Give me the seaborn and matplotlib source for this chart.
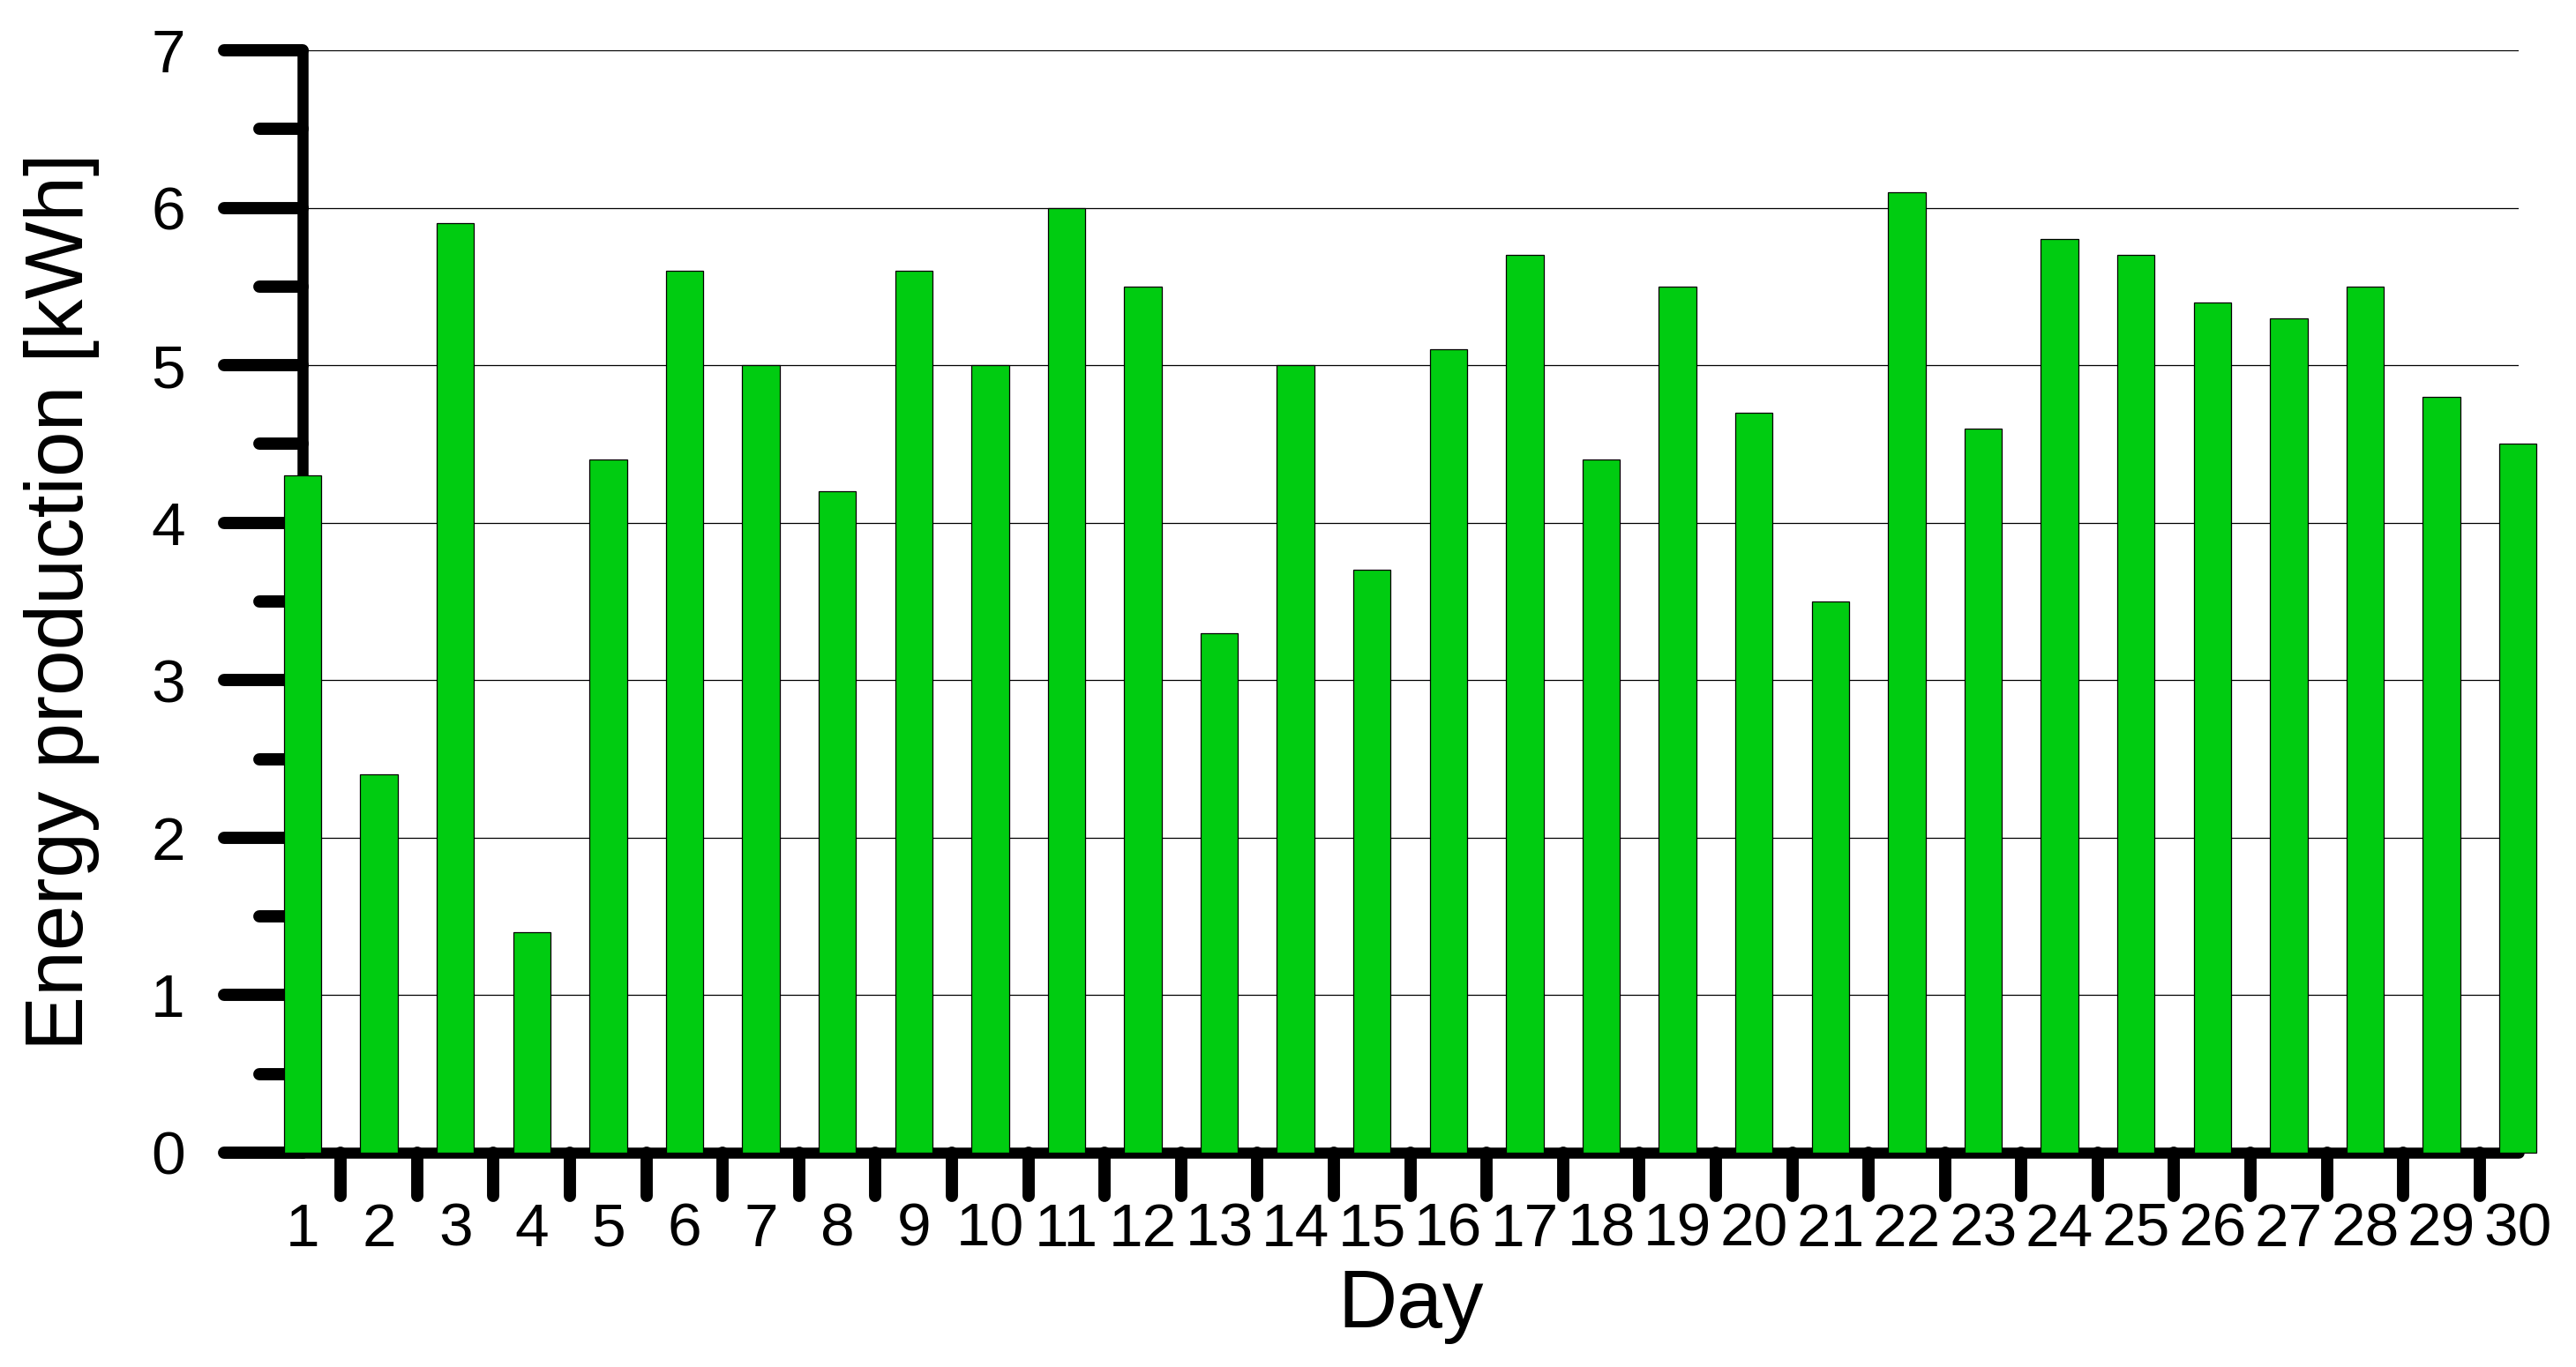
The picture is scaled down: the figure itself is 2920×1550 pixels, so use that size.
import numpy as np
import pandas as pd
import matplotlib
matplotlib.use("Agg")
import matplotlib.pyplot as plt
from matplotlib.markers import MarkerStyle
import seaborn as sns

# ---- data ----
days = [str(d) for d in range(1, 31)]
energy = [4.3, 2.4, 5.9, 1.4, 4.4, 5.6, 5.0, 4.2, 5.6, 5.0,
          6.0, 5.5, 3.3, 5.0, 3.7, 5.1, 5.7, 4.4, 5.5, 4.7,
          3.5, 6.1, 4.6, 5.8, 5.7, 5.4, 5.3, 5.5, 4.8, 4.5]
y_ticks = [0, 1, 2, 3, 4, 5, 6, 7]
y_minor = [0.5, 1.5, 2.5, 3.5, 4.5, 5.5, 6.5]
x_label = "Day"
y_label = "Energy production [kWh]"

sns.set_style("white")
plt.rcParams['font.family'] = ['Liberation Sans', 'DejaVu Sans']
plt.rcParams['text.color'] = 'black'
plt.rcParams['axes.labelcolor'] = 'black'
plt.rcParams['xtick.color'] = 'black'
plt.rcParams['ytick.color'] = 'black'
plt.rcParams['xtick.labelcolor'] = 'black'
plt.rcParams['ytick.labelcolor'] = 'black'

df = pd.DataFrame({"Day": days, "Energy": energy})

fig = plt.figure(figsize=(29.2, 15.5), dpi=100)
ax = fig.add_axes([343/2920, 1 - 1307/1550, (2855-343)/2920, (1307-57)/1550])

sns.barplot(data=df, x="Day", y="Energy", order=days, color="#00cc11",
            saturation=1, width=0.49, edgecolor="black", linewidth=0.9, ax=ax)

for p in ax.patches:
    p.set_zorder(3)
    p.set_clip_on(False)

ax.set_xlim(0.057, 29.01)
ax.set_ylim(0, 7)

for s in ["top", "right"]:
    ax.spines[s].set_visible(False)
for s in ["left", "bottom"]:
    ax.spines[s].set_linewidth(9)
    ax.spines[s].set_color("black")
    ax.spines[s].set_capstyle("round")

ax.set_axisbelow(True)
ax.yaxis.grid(True, which="major", color="black", linewidth=0.9)
ax.xaxis.grid(False)

# y ticks
ax.set_yticks(y_ticks)
ax.set_yticks(y_minor, minor=True)
ax.set_yticklabels([str(t) for t in y_ticks])
ax.tick_params(axis="y", which="major", direction="out", length=64, width=10,
               color="black", labelcolor="black", labelsize=50, pad=32, left=True)
ax.tick_params(axis="y", which="minor", direction="out", length=35, width=10,
               color="black", left=True)

# x ticks: labels at bar centres, tick marks between bars
xpos = np.arange(len(days))
ax.set_xticks(xpos)
ax.set_xticklabels(days)
ax.set_xticks(xpos[:-1] + 0.5, minor=True)
ax.tick_params(axis="x", which="major", length=0, labelsize=50, pad=40,
               labelcolor="black", bottom=True)
ax.tick_params(axis="x", which="minor", direction="out", length=35, width=10,
               color="black", bottom=True)

ax.set_xlabel(x_label, fontsize=67, labelpad=8, color="black")
ax.set_ylabel(y_label, fontsize=67, labelpad=42, color="black")

# round caps on tick marks
for t in ax.yaxis.get_major_ticks() + ax.yaxis.get_minor_ticks():
    t.tick1line.set_marker(MarkerStyle(0, capstyle="round"))
for t in ax.xaxis.get_minor_ticks():
    t.tick1line.set_marker(MarkerStyle(3, capstyle="round"))

fig.savefig("out.png", dpi=100, facecolor="white")
